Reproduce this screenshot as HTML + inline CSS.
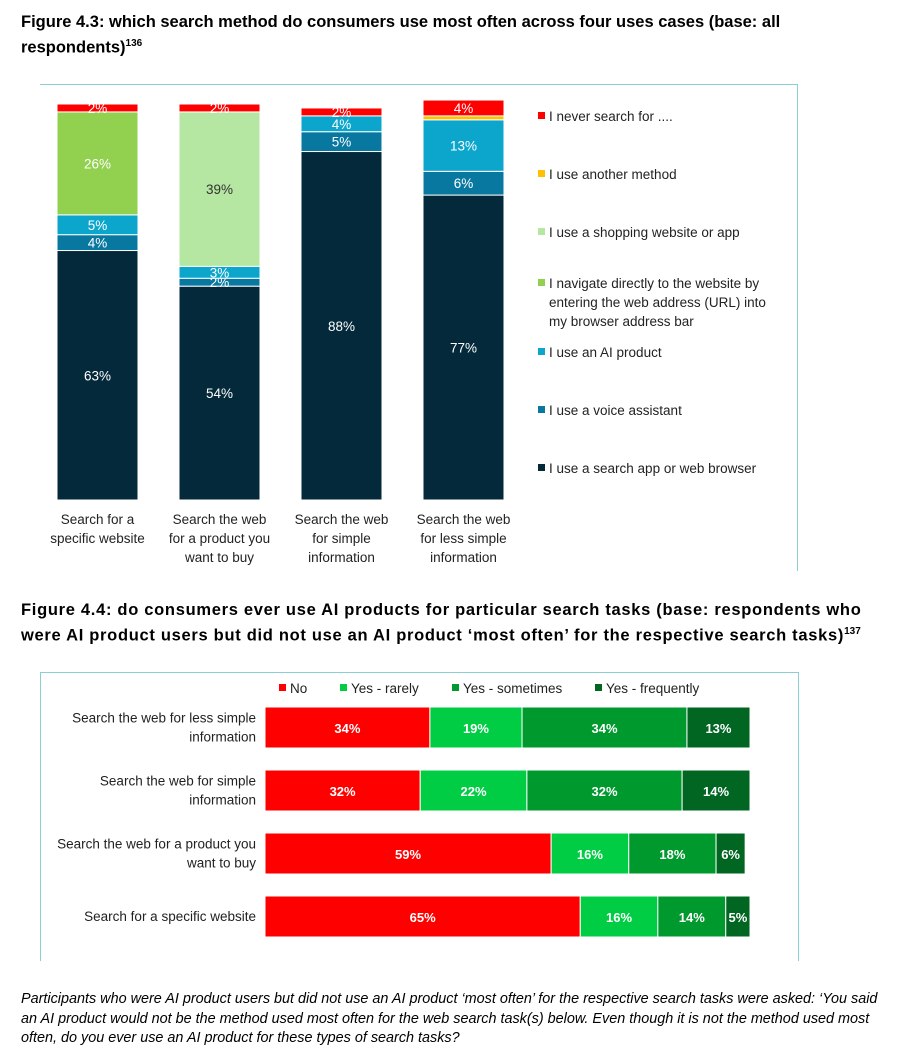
<!DOCTYPE html>
<html><head><meta charset="utf-8"><style>
body{margin:0;background:#fff;width:916px;height:1051px;position:relative;font-family:"Liberation Sans",sans-serif;overflow:hidden}
.t{position:absolute;font-weight:bold;font-size:16.5px;color:#000;line-height:22px}
.box{position:absolute;border:1.5px solid #8ccfd3;}
svg text{font-family:"Liberation Sans",sans-serif}
.note{position:absolute;left:21px;top:990px;width:890px;white-space:nowrap;font-style:italic;font-size:14.4px;line-height:19.5px;color:#000}
</style></head><body>
<div class="t" style="left:21px;top:11px;width:880px">Figure 4.3: which search method do consumers use most often across four uses cases (base: all respondents)<sup style="font-size:10px">136</sup></div>
<div class="box" style="left:40px;top:84px;width:757px;height:486px;border-bottom:none;border-left:none"></div>
<svg id="c1" width="916" height="580" style="position:absolute;left:0;top:0"></svg>
<div class="t" style="left:21px;top:599px;width:895px;white-space:nowrap;letter-spacing:0.7px">Figure 4.4: do consumers ever use AI products for particular search tasks (base: respondents who<br>were AI product users but did not use an AI product ‘most often’ for the respective search tasks)<sup style="font-size:10px;letter-spacing:0">137</sup></div>
<div class="box" style="left:40px;top:672px;width:757px;height:288px;border-bottom:none"></div>
<svg id="c2" width="916" height="980" style="position:absolute;left:0;top:0"></svg>
<div class="note">Participants who were AI product users but did not use an AI product ‘most often’ for the respective search tasks were asked: ‘You said<br>an AI product would not be the method used most often for the web search task(s) below. Even though it is not the method used most<br>often, do you ever use an AI product for these types of search tasks?</div>
<script>
const c1Categories=[["Search for a","specific website"],["Search the web","for a product you","want to buy"],["Search the web","for simple","information"],["Search the web","for less simple","information"]];
const c1SeriesNames=["I use a search app or web browser","I use a voice assistant","I use an AI product","I navigate directly to the website by|entering the web address (URL) into|my browser address bar","I use a shopping website or app","I use another method","I never search for ...."];
const c1Search=[63,54,88,77];
const c1Voice=[4,2,5,6];
const c1AI=[5,3,4,13];
const c1Navigate=[26,0,0,0];
const c1Shopping=[0,39,0,0];
const c1Other=[0,0,0,1];
const c1Never=[2,2,2,4];
const c1Colors=["#03293a","#0878a0","#0ca6cc","#92d050","#b5e6a2","#ffc000","#ff0000"];
const c1Text=["#fff","#fff","#fff","#fff","#333","#fff","#fff"];
const NS="http://www.w3.org/2000/svg";
function mk(p,tag,a){const e=document.createElementNS(NS,tag);for(const k in a)e.setAttribute(k,a[k]);p.appendChild(e);return e;}
const s1=document.getElementById('c1');
const base=500,pp=3.96;
const yS=v=>v*pp;
const xS=i=>57+i*122;
const series=[c1Search,c1Voice,c1AI,c1Navigate,c1Shopping,c1Other,c1Never];
c1Categories.forEach((cat,i)=>{
 let acc=0;
 series.forEach((arr,s)=>{
  const v=arr[i]; if(!v)return;
  const h=yS(v), y=base-yS(acc)-h;
  const r=mk(s1,'rect',{x:xS(i),y:y,width:81,height:h,fill:c1Colors[s],stroke:'#fff','stroke-width':1});
  
  
  if(s!==5){const t=mk(s1,'text',{x:xS(i)+40.5,y:y+h/2+5,'text-anchor':'middle','font-size':13.5,fill:c1Text[s]});t.textContent=v+'%';
  
  }
  acc+=v;
 });
 cat.forEach((ln,j)=>{const t=mk(s1,'text',{x:xS(i)+40.5,y:524+j*19,'text-anchor':'middle','font-size':13.5,fill:'#222'});t.textContent=ln;
 
 });
});
const legY=[116,174,232,283,352,410,468];
const legOrder=[6,5,4,3,2,1,0];
legOrder.forEach((s,k)=>{
 const r=mk(s1,'rect',{x:538,y:legY[k]-4,width:7,height:7,fill:c1Colors[s]});
 
 
 c1SeriesNames[s].split('|').forEach((ln,j)=>{const t=mk(s1,'text',{x:549,y:legY[k]+5+j*19,'font-size':13.5,fill:'#222'});t.textContent=ln;
 
 });
});
const c2Categories=[["Search the web for less simple","information"],["Search the web for simple","information"],["Search the web for a product you","want to buy"],["Search for a specific website"]];
const c2SeriesNames=["No","Yes - rarely","Yes - sometimes","Yes - frequently"];
const c2No=[34,32,59,65];
const c2Rarely=[19,22,16,16];
const c2Sometimes=[34,32,18,14];
const c2Frequently=[13,14,6,5];
const c2Colors=["#ff0000","#00cc44","#00992e","#006622"];
const s2=document.getElementById('c2');
const x0=265,px=4.85;
const xw=v=>v*px;
const yRow=i=>707+i*63;
const s2ser=[c2No,c2Rarely,c2Sometimes,c2Frequently];
c2Categories.forEach((cat,i)=>{
 let acc=0;
 s2ser.forEach((arr,s)=>{
  const v=arr[i];const x=x0+xw(acc),w=xw(v);
  const r=mk(s2,'rect',{x:x,y:yRow(i),width:w,height:41,fill:c2Colors[s],stroke:'#fff','stroke-width':1});
  
  
  const t=mk(s2,'text',{x:x+w/2,y:yRow(i)+26,'text-anchor':'middle','font-size':13,'font-weight':'bold',fill:'#fff'});t.textContent=v+'%';
  
  
  acc+=v;
 });
 const n=cat.length;
 cat.forEach((ln,j)=>{const t=mk(s2,'text',{x:256,y:yRow(i)+25-(n-1)*9.5+j*19,'text-anchor':'end','font-size':13.5,fill:'#222'});t.textContent=ln;
 
 });
});
const leg2X=[279,340,452,595];
c2SeriesNames.forEach((n,s)=>{
 const r=mk(s2,'rect',{x:leg2X[s],y:684,width:7,height:7,fill:c2Colors[s]});
 
 
 const t=mk(s2,'text',{x:leg2X[s]+11,y:693,'font-size':13.5,fill:'#222'});t.textContent=n;
 
 
});
</script>
</body></html>
